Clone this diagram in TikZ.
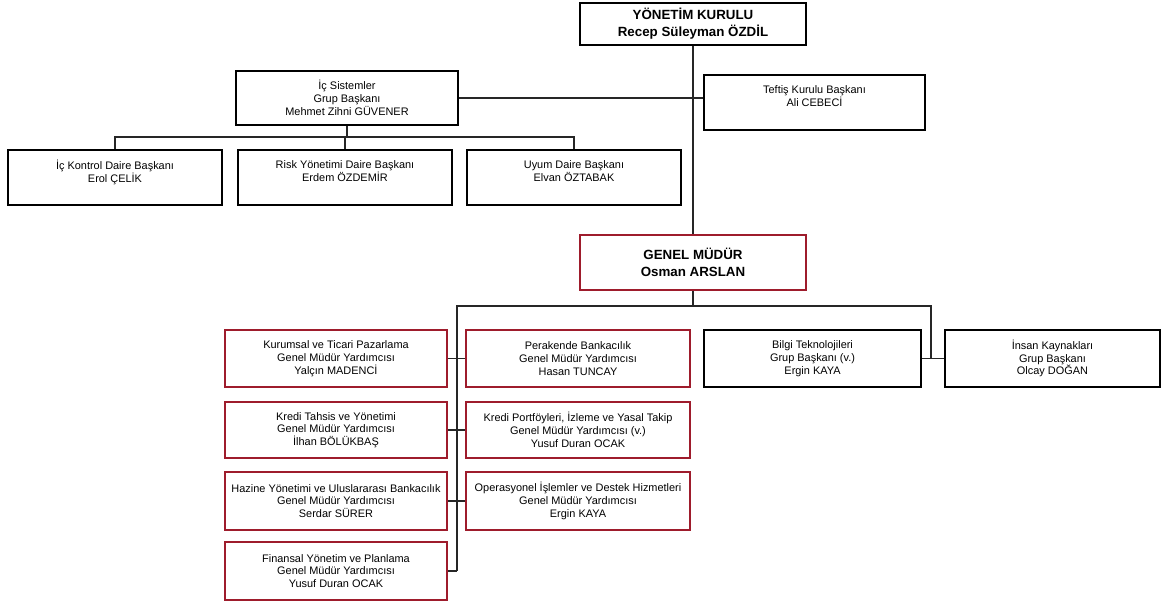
\documentclass[tikz,border=0pt]{standalone}
\usepackage{fontspec}
\setmainfont{Liberation Sans}
\usetikzlibrary{calc,positioning,shadows}

\definecolor{gmred}{RGB}{158,28,44}

\tikzset{
  unit/.style={draw=black, line width=1.5pt, fill=white, align=center,
    font=\fontsize{8.2}{9.6}\selectfont,
    drop shadow={shadow xshift=0.6pt, shadow yshift=-0.8pt, fill=black!55}},
  redunit/.style={unit, draw=gmred, line width=1.7pt},
  head/.style={font=\bfseries\fontsize{10}{12.6}\selectfont},
  size/.style 2 args={minimum width=#1*0.75pt, minimum height=#2*0.75pt},
  link/.style={line width=0.8pt, black!85}
}

\begin{document}
\begin{tikzpicture}[x=0.75pt,y=-0.75pt]
  \useasboundingbox (0,0) rectangle (1166,606);

  \node[unit,head,size={226}{42}] (yk) at (693,24)
    {YÖNETİM KURULU\\Recep Süleyman ÖZDİL};
  \node[unit,size={222}{54}] (icsis) at (347,98)
    {İç Sistemler\\Grup Başkanı\\Mehmet Zihni GÜVENER};
  \node[unit,size={221}{55}] (teftis) at (814.5,102.5)
    {Teftiş Kurulu Başkanı\\Ali CEBECİ\\\mbox{}};

  \node[unit,size={214}{55}] (ickontrol) at (115,177.5)
    {İç Kontrol Daire Başkanı\\Erol ÇELİK\\\mbox{}};
  \node[unit,size={214}{55}] (risk) at (345,177.5)
    {Risk Yönetimi Daire Başkanı\\Erdem ÖZDEMİR\\\mbox{}};
  \node[unit,size={214}{55}] (uyum) at (574,177.5)
    {Uyum Daire Başkanı\\Elvan ÖZTABAK\\\mbox{}};

  \node[redunit,head,size={226}{55},line width=2pt] (gm) at (693,262.5)
    {GENEL MÜDÜR\\Osman ARSLAN};

  \node[redunit,size={222}{57}] (kurumsal) at (336,358.5)
    {Kurumsal ve Ticari Pazarlama\\Genel Müdür Yardımcısı\\Yalçın MADENCİ};
  \node[redunit,size={224}{57}] (perakende) at (578,358.5)
    {Perakende Bankacılık\\Genel Müdür Yardımcısı\\Hasan TUNCAY};
  \node[unit,size={217}{57}] (bilgi) at (812.5,358.5)
    {Bilgi Teknolojileri\\Grup Başkanı (v.)\\Ergin KAYA};
  \node[unit,size={215}{57}] (insan) at (1052.5,358.5)
    {İnsan Kaynakları\\Grup Başkanı\\Olcay DOĞAN};

  \node[redunit,size={222}{56}] (kredi) at (336,430)
    {Kredi Tahsis ve Yönetimi\\Genel Müdür Yardımcısı\\İlhan BÖLÜKBAŞ};
  \node[redunit,size={224}{56}] (portfoy) at (578,430)
    {Kredi Portföyleri, İzleme ve Yasal Takip\\Genel Müdür Yardımcısı (v.)\\Yusuf Duran OCAK};
  \node[redunit,size={222}{58}] (hazine) at (336,501)
    {Hazine Yönetimi ve Uluslararası Bankacılık\\Genel Müdür Yardımcısı\\Serdar SÜRER};
  \node[redunit,size={224}{58}] (operasyon) at (578,501)
    {Operasyonel İşlemler ve Destek Hizmetleri\\Genel Müdür Yardımcısı\\Ergin KAYA};
  \node[redunit,size={222}{58}] (finansal) at (336,571)
    {Finansal Yönetim ve Planlama\\Genel Müdür Yardımcısı\\Yusuf Duran OCAK};

  \coordinate (bus1) at (0,137);
  \coordinate (bus2) at (0,306);
  \coordinate (ltrunk) at (457,0);
  \coordinate (rtrunk) at (931,0);

  \draw[link] (yk.south) -- (gm.north);
  \draw[link] (icsis.east) -- (icsis.east -| teftis.west);
  \draw[link] (icsis.south) -- (icsis.south |- bus1);
  \draw[link] (ickontrol.north) |- (bus1 -| uyum.north) -- (uyum.north);
  \draw[link] (risk.north) -- (risk.north |- bus1);
  \draw[link] (gm.south) -- (gm.south |- bus2);
  \draw[link] (ltrunk |- finansal.east) -- (ltrunk |- bus2) -- (rtrunk |- bus2) -- (rtrunk |- bilgi.east);
  \draw[link] (bilgi.east) -- (insan.west);
  \foreach \u in {kurumsal,kredi,hazine,finansal}
    \draw[link] (\u.east) -- (ltrunk |- \u.east);
  \foreach \u in {perakende,portfoy,operasyon}
    \draw[link] (\u.west) -- (ltrunk |- \u.west);

\end{tikzpicture}
\end{document}
